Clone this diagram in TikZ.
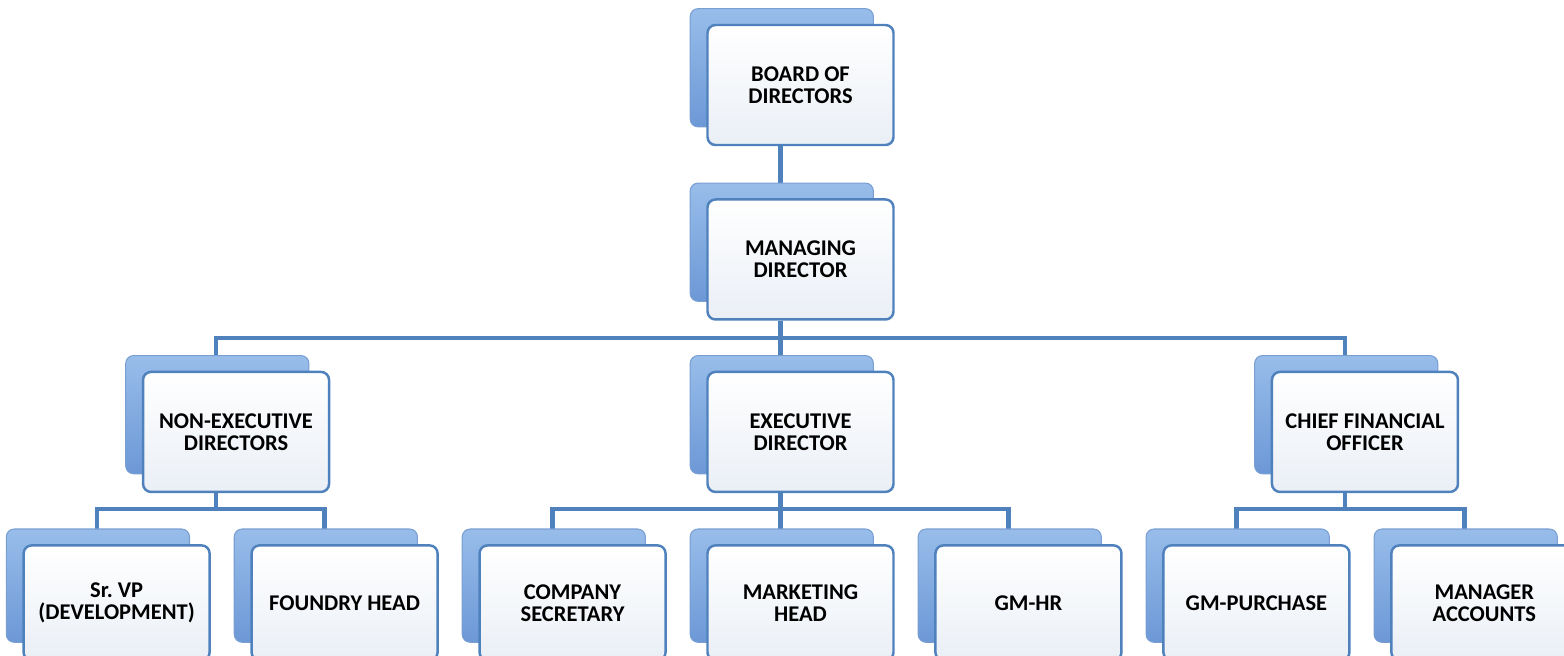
\documentclass[tikz,border=0pt]{standalone}
\usepackage{fontspec}
\setmainfont{Carlito}
\usepackage{tikz}
\usetikzlibrary{positioning, shadows, backgrounds}
\definecolor{linkblue}{RGB}{79,129,189}
\definecolor{backtop}{RGB}{152,189,234}
\definecolor{backbottom}{RGB}{108,152,214}
\definecolor{backedge}{RGB}{120,158,210}
\definecolor{frontbottom}{RGB}{234,239,246}
\tikzset{
  post/.style={draw=linkblue, line width=1.4pt, rectangle, rounded corners=0.16cm,
    top color=white, bottom color=frontbottom, align=center,
    minimum width=3.72cm, minimum height=2.4cm, inner sep=2pt,
    font=\fontsize{12.8}{12.6}\selectfont\bfseries,
    general shadow={shadow xshift=-0.38cm, shadow yshift=0.35cm, shadow scale=0.985,
      top color=backtop, bottom color=backbottom, draw=backedge, line width=0.6pt}},
  lowpost/.style={post, minimum height=2.3cm},
  link/.style={draw=linkblue, line width=2.4pt}
}

\begin{document}
\begin{tikzpicture}
      \useasboundingbox (0,0) rectangle (31.28,-13.1);

      \node[post] (board) at (16.01,-1.7) {BOARD OF\\DIRECTORS};
      \node[post, below=1.04cm of board] (managing-director) {MANAGING\\DIRECTOR};

      \node[post, below=1cm of managing-director] (executive) {EXECUTIVE\\DIRECTOR};
      \node[post, left=7.52cm of executive] (non-executive) {NON-EXECUTIVE\\DIRECTORS};
      \node[post, right=7.52cm of executive] (chief-financial) {CHIEF FINANCIAL\\OFFICER};

      \node[lowpost, below=1.02cm of executive] (marketing) {MARKETING\\HEAD};
      \node[lowpost, left=0.79cm of marketing] (company-secretary) {COMPANY\\SECRETARY};
      \node[lowpost, left=0.79cm of company-secretary] (foundry) {FOUNDRY HEAD};
      \node[lowpost, left=0.79cm of foundry] (sr-vp) {Sr.\ VP\\(DEVELOPMENT)};
      \node[lowpost, right=0.79cm of marketing] (gm-hr) {GM-HR};
      \node[lowpost, right=0.79cm of gm-hr] (gm-purchase) {GM-PURCHASE};
      \node[lowpost, right=0.79cm of gm-purchase] (manager-accounts) {MANAGER\\ACCOUNTS};

      \coordinate (bus-md) at ([xshift=-0.4cm, yshift=-0.34cm]managing-director.south);
      \coordinate (bus-ned) at ([xshift=-0.4cm, yshift=-0.32cm]non-executive.south);
      \coordinate (bus-ed) at ([xshift=-0.4cm, yshift=-0.32cm]executive.south);
      \coordinate (bus-cfo) at ([xshift=-0.4cm, yshift=-0.32cm]chief-financial.south);

      \begin{scope}[on background layer]
            \draw[link] ([xshift=-0.4cm]board.south) -- ([xshift=-0.4cm]managing-director.north);
            \draw[link] ([xshift=-0.4cm]managing-director.south) -- (bus-md);
            \draw[link] (bus-md) -| ([xshift=-0.4cm]non-executive.north);
            \draw[link] (bus-md) -- ([xshift=-0.4cm]executive.north);
            \draw[link] (bus-md) -| ([xshift=-0.4cm]chief-financial.north);

            \draw[link] ([xshift=-0.4cm]non-executive.south) -- (bus-ned);
            \draw[link] (bus-ned) -| ([xshift=-0.4cm]sr-vp.north);
            \draw[link] (bus-ned) -| ([xshift=-0.4cm]foundry.north);

            \draw[link] ([xshift=-0.4cm]executive.south) -- (bus-ed);
            \draw[link] (bus-ed) -| ([xshift=-0.4cm]company-secretary.north);
            \draw[link] (bus-ed) -- ([xshift=-0.4cm]marketing.north);
            \draw[link] (bus-ed) -| ([xshift=-0.4cm]gm-hr.north);

            \draw[link] ([xshift=-0.4cm]chief-financial.south) -- (bus-cfo);
            \draw[link] (bus-cfo) -| ([xshift=-0.4cm]gm-purchase.north);
            \draw[link] (bus-cfo) -| ([xshift=-0.4cm]manager-accounts.north);
      \end{scope}
\end{tikzpicture}
\end{document}
